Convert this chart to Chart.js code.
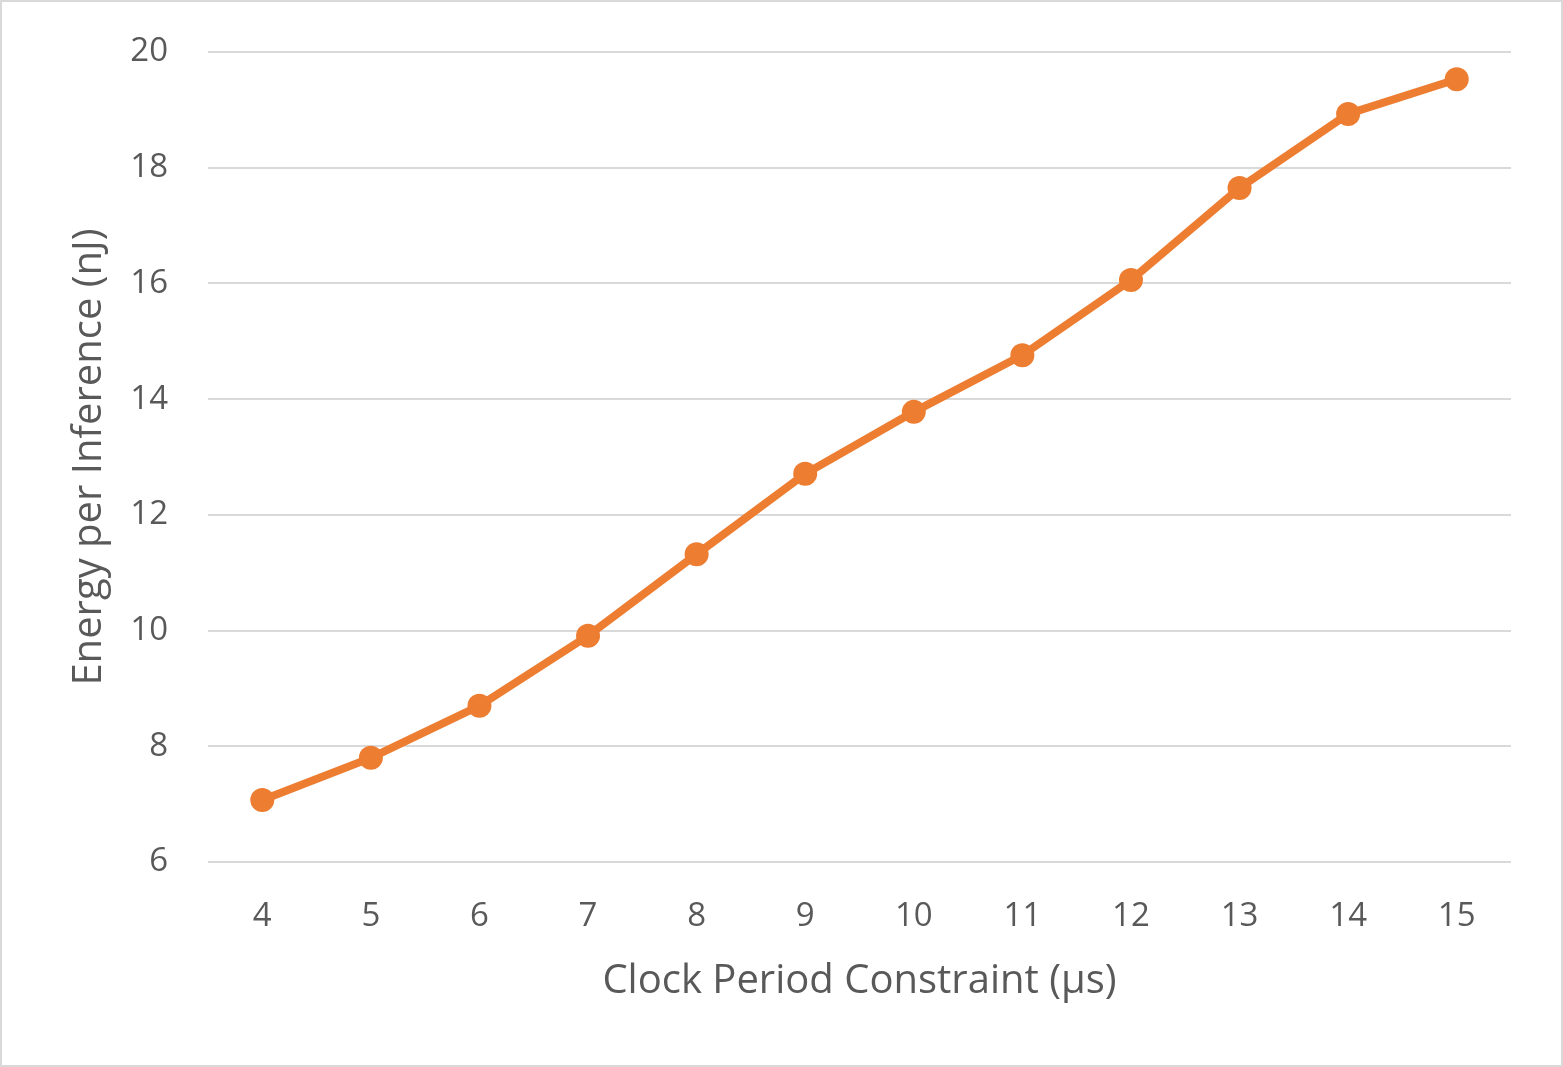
<!DOCTYPE html>
<html>
<head>
<meta charset="utf-8">
<script src="https://cdn.jsdelivr.net/npm/chart.js@4.4.0/dist/chart.umd.min.js"></script>
<style>
  html, body { margin:0; padding:0; background:#fff; }
  #wrap { width:1563px; height:1067px; box-sizing:border-box; border:2px solid #d9d9d9; }
</style>
</head>
<body>
<div id="wrap"><canvas id="chart" width="1559" height="1063"></canvas></div>
<script>
/* DATOS */
const periods = ["4","5","6","7","8","9","10","11","12","13","14","15"];
const energy = [7.07,7.80,8.70,9.91,11.32,12.71,13.78,14.76,16.06,17.65,18.93,19.53];
const yTicks = [6,8,10,12,14,16,18,20];

const textColor = "#595959";
const fontFam = "'Open Sans', Lato, sans-serif";

new Chart(document.getElementById("chart"), {
  type: "line",
  data: {
    labels: periods,
    datasets: [{
      label: "Energy per Inference",
      data: energy,
      borderColor: "#ED7D31",
      backgroundColor: "#ED7D31",
      borderWidth: 8,
      pointRadius: 12,
      pointHoverRadius: 12,
      pointBorderWidth: 0,
      tension: 0
    }]
  },
  options: {
    responsive: false,
    animation: false,
    layout: { padding: { left: 0, right: 50, top: 50, bottom: 55 } },
    plugins: { legend: { display: false }, tooltip: { enabled: false } },
    scales: {
      x: {
        offset: true,
        grid: { display: false, drawTicks: false },
        border: { display: false },
        ticks: { color: textColor, font: { family: fontFam, size: 33 }, padding: 35 },
        title: { display: true, text: "Clock Period Constraint (µs)", color: textColor,
                 font: { family: fontFam, size: 40 }, padding: { top: 22, bottom: 4 } },
        afterFit: s => { s.height = 148; }
      },
      y: {
        min: 6, max: 20,
        afterBuildTicks: s => { s.ticks = yTicks.map(v => ({ value: v })); },
        grid: { color: "#d9d9d9", lineWidth: 2, drawTicks: false },
        border: { display: false },
        ticks: { color: textColor, font: { family: fontFam, size: 33 }, padding: 40 },
        title: { display: true, text: "Energy per Inference (nJ)", color: textColor,
                 font: { family: fontFam, size: 40 }, padding: { top: 64, bottom: 4 } },
        afterFit: s => { s.width = 206; s.paddingTop = 20; s.paddingBottom = 20; }
      }
    }
  }
});
</script>
</body>
</html>
